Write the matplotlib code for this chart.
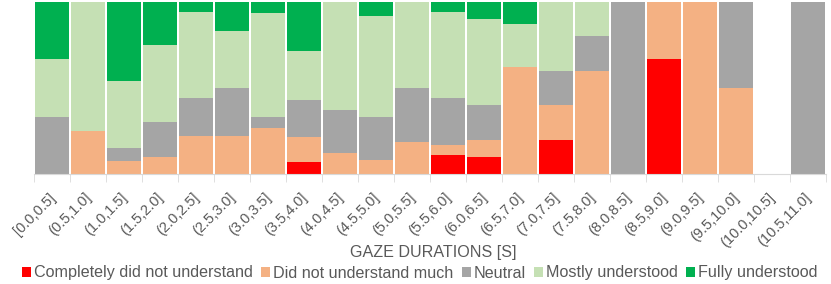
import numpy as np
import matplotlib
matplotlib.use("Agg")
import matplotlib.pyplot as plt
import matplotlib.transforms as mtransforms

plt.rcParams['font.family'] = ['Liberation Sans', 'DejaVu Sans']

categories = ['[0.0,0.5]', '(0.5,1.0]', '(1.0,1.5]', '(1.5,2.0]', '(2.0,2.5]', '(2.5,3.0]',
              '(3.0,3.5]', '(3.5,4.0]', '(4.0,4.5]', '(4.5,5.0]', '(5.0,5.5]', '(5.5,6.0]',
              '(6.0,6.5]', '(6.5,7.0]', '(7.0,7.5]', '(7.5,8.0]', '(8.0,8.5]', '(8.5,9.0]',
              '(9.0,9.5]', '(9.5,10.0]', '(10.0,10.5]', '(10.5,11.0]']

# response counts per gaze-duration bin
completely_not = [0, 0, 0, 0, 0, 0, 0, 1, 0, 0, 0, 2, 1, 0, 1, 0, 0, 2, 0, 0, 0, 0]
not_much       = [0, 1, 1, 2, 4, 4, 4, 2, 1, 1, 3, 1, 1, 5, 1, 3, 0, 1, 1, 1, 0, 0]
neutral        = [1, 0, 1, 4, 4, 5, 1, 3, 2, 3, 5, 5, 2, 0, 1, 1, 1, 0, 0, 1, 0, 1]
mostly         = [1, 3, 5, 9, 9, 6, 9, 4, 5, 7, 8, 9, 5, 2, 2, 1, 0, 0, 0, 0, 0, 0]
fully          = [1, 0, 6, 5, 1, 3, 1, 4, 0, 1, 0, 1, 1, 1, 0, 0, 0, 0, 0, 0, 0, 0]

series = [
    ('Completely did not understand', completely_not, '#FF0000'),
    ('Did not understand much', not_much, '#F4B183'),
    ('Neutral', neutral, '#A5A5A5'),
    ('Mostly understood', mostly, '#C5E0B4'),
    ('Fully understood', fully, '#00B050'),
]

counts = np.array([s[1] for s in series], dtype=float)
totals = counts.sum(axis=0)
totals[totals == 0] = 1
shares = counts / totals

fig = plt.figure(figsize=(8.31, 2.84), dpi=100)
ax = fig.add_axes([34 / 831, 1 - 174 / 284, 792 / 831, 172 / 284])

x = np.arange(len(categories))
bottom = np.zeros(len(categories))
for (name, _, color), vals in zip(series, shares):
    ax.bar(x, vals, bottom=bottom, width=0.92, color=color, label=name,
           edgecolor='none')
    bottom += vals

ax.set_xlim(-0.5, len(categories) - 0.5)
ax.set_ylim(0, 1)
ax.set_yticks([])
for side in ['left', 'right', 'top']:
    ax.spines[side].set_visible(False)
ax.spines['bottom'].set_color('#D9D9D9')

ax.set_xticks(x)
ax.set_xticklabels(categories, rotation=45, ha='right', va='top', rotation_mode='anchor',
                   fontsize=10.5, color='#595959')
ax.tick_params(axis='x', which='major', length=0, pad=12)
shift = mtransforms.ScaledTranslation(-4 / 100, 0, fig.dpi_scale_trans)
for lbl in ax.get_xticklabels():
    lbl.set_transform(lbl.get_transform() + shift)
ax.set_xticks(np.arange(len(categories) + 1) - 0.5, minor=True)
ax.tick_params(axis='x', which='minor', length=6, color='#D9D9D9')

fig.text(433 / 831, 1 - 252 / 284, 'GAZE DURATIONS [S]', ha='center', va='center',
         fontsize=11.6, color='#595959')

fig.legend(loc='center', bbox_to_anchor=(420 / 831, 1 - 273 / 284), ncol=5,
           frameon=False, fontsize=11.6, labelcolor='#595959',
           handlelength=0.55, handleheight=0.55, handletextpad=0.2, columnspacing=0.5,
           borderpad=0)

fig.savefig('out.png', dpi=100)
